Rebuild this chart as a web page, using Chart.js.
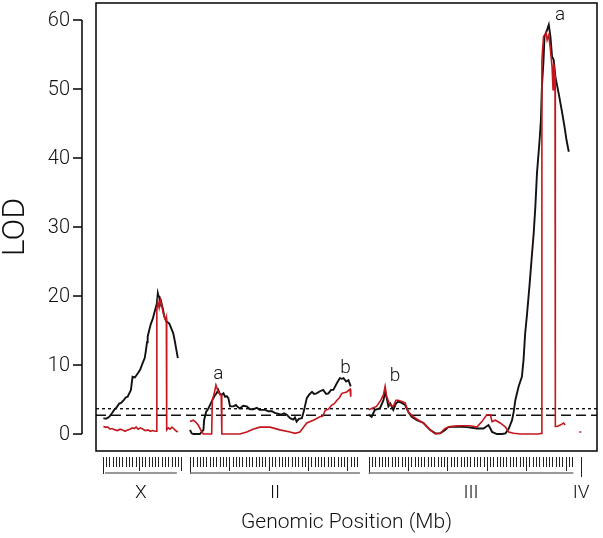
<!DOCTYPE html>
<html>
<head>
<meta charset="utf-8">
<script src="https://cdn.jsdelivr.net/npm/chart.js@4"></script>
<style>
  html, body { margin: 0; padding: 0; background: #fff; }
  canvas { display: block; }
</style>
</head>
<body>
<canvas id="lod" width="603" height="538"></canvas>
<script>
// chromosomes: name, where they start on the genome axis (Mb), bracket extent, marker rug
const chromNames = ['X', 'II', 'III', 'IV']
const chromStart = [2.05, 28.66, 83.14, 147.87]
const chromSpan = [[0.7, 22.6], [0, 51.8], [0, 62.4], [0, 0]]
const markerCount = [25, 52, 63, 1]
const majorMarks = [[11, 24], [12, 24, 36, 48], [12, 24, 36, 48, 60], []]

const yTicks = [0, 10, 20, 30, 40, 50, 60]
const thresholds = [3.67, 2.71]

// LOD traces, [position within chromosome (Mb), LOD]
const blackX = [[0.2,2.3],[1.0,2.2],[2.0,2.5],[2.8,3.0],[3.5,3.5],[4.3,3.9],[5.0,4.4],[5.6,4.5],[6.4,4.9],[7.0,5.3],[7.6,5.4],[8.2,6.0],[8.6,6.4],[8.9,7.6],[9.1,8.3],[9.8,8.2],[10.7,8.8],[11.4,9.3],[12.2,10.3],[12.8,11.0],[13.2,12.2],[13.5,13.3],[13.7,14.1],[14.2,15.1],[14.7,16.0],[15.2,16.6],[15.7,17.5],[16.1,18.2],[16.5,18.9],[16.8,20.4],[17.0,20.0],[17.3,19.9],[17.6,18.9],[17.8,19.2],[18.3,18.2],[18.8,17.0],[19.5,16.3],[20.3,16.0],[20.9,15.3],[21.5,14.6],[22.0,13.4],[22.3,12.6],[22.6,11.8],[22.9,11.0]]
const redX = [[0.2,1.1],[0.8,1.0],[1.6,1.0],[2.2,0.7],[2.8,0.8],[3.8,0.6],[4.5,0.5],[5.3,0.7],[6.0,0.6],[6.8,0.4],[7.6,0.6],[8.3,0.7],[9.0,0.9],[9.6,0.8],[10.2,1.0],[10.8,0.7],[11.5,0.9],[12.3,0.7],[13.0,0.5],[13.8,0.6],[14.5,0.4],[15.2,0.5],[16.0,0.4],[16.4,0.4],[16.5,18.0],[16.8,19.2],[17.2,18.3],[17.6,19.4],[18.0,18.6],[18.4,17.6],[18.8,17.0],[19.2,16.4],[19.4,16.8],[19.5,0.6],[20.0,0.9],[20.5,0.7],[21.1,1.0],[21.6,0.8],[22.0,0.6],[22.5,0.4],[22.9,0.3]]

const blackII = [[0,0.6],[0.5,0.1],[1.0,0],[3.0,0],[4.1,0.6],[4.3,2.0],[4.9,3.2],[5.6,3.7],[6.6,4.7],[7.1,5.2],[7.6,5.6],[8.1,5.9],[8.6,6.4],[9.1,5.8],[9.7,5.7],[10.2,5.9],[10.7,5.4],[11.2,5.5],[11.7,5.2],[12.2,4.0],[13.2,4.0],[14.0,4.2],[14.6,3.9],[15.2,3.7],[16.2,4.1],[17.3,4.0],[18.3,3.6],[19.3,3.6],[20.4,3.8],[21.2,3.5],[21.9,3.5],[22.9,3.5],[23.9,3.3],[25.0,3.3],[25.7,3.1],[26.4,3.0],[27.9,2.8],[28.7,3.0],[29.5,2.8],[30.5,2.3],[31.5,2.1],[32.0,2.4],[32.5,1.8],[33.2,2.2],[34.1,2.3],[34.8,3.5],[35.6,5.2],[36.3,5.7],[37.2,6.1],[37.8,5.8],[38.6,5.9],[39.6,6.2],[40.6,6.4],[41.5,5.8],[42.2,5.9],[43.0,6.4],[43.7,6.4],[44.8,7.4],[45.7,8.1],[46.3,8.0],[46.8,8.1],[47.6,7.6],[48.3,7.8],[49.0,6.9]]
const redII = [[0,1.8],[1.0,2.0],[1.8,1.7],[2.5,1.3],[3.6,0.3],[4.1,0],[6.6,0],[6.8,4.9],[7.4,5.9],[7.9,7.1],[8.4,6.4],[9.1,5.7],[9.5,5.7],[9.7,0],[15.2,0],[17.3,0.3],[19.2,0.7],[21.3,1.0],[24.4,1.0],[27.4,0.6],[30.5,0.3],[32.0,0.1],[33.5,0.3],[35.6,1.6],[37.6,2.0],[39.6,2.5],[40.5,2.6],[41.2,3.4],[42.2,3.6],[43.2,4.2],[44.0,4.4],[44.8,4.9],[45.6,5.3],[46.3,5.9],[47.8,6.1],[48.8,6.5],[49.0,5.4]]

const blackIII = [[0,2.8],[0.9,2.5],[1.9,3.5],[3.4,3.7],[4.5,4.9],[5.0,6.1],[5.5,5.2],[6.0,4.0],[6.6,4.4],[7.5,3.5],[8.3,4.4],[9.0,4.7],[10.1,4.5],[11.1,4.2],[12.1,3.2],[13.1,2.5],[14.7,2.0],[16.7,1.6],[18.7,0.6],[20.3,0.1],[21.8,0.1],[23.3,0.6],[24.3,1.0],[26.9,1.1],[29.9,1.0],[33.0,0.8],[35.0,0.8],[36.5,1.3],[37.1,0.8],[37.6,0.3],[39.1,0],[40.6,0],[41.7,0.1],[42.7,0.8],[43.7,2.0],[44.2,3.2],[44.7,4.9],[45.7,6.9],[46.7,8.3],[47.2,10.7],[47.7,14.6],[48.2,17.0],[49.0,21.4],[49.8,26.2],[50.3,29.1],[50.8,32.9],[51.3,37.8],[52.1,42.6],[52.5,45.5],[52.8,50.3],[53.3,54.2],[53.6,57.6],[54.4,58.6],[54.9,59.3],[55.4,57.6],[55.9,54.7],[56.4,54.2],[56.9,51.8],[57.9,49.4],[59.0,46.5],[59.7,44.5],[60.3,42.6],[61.0,40.9]]
const redIII = [[0,3.5],[0.9,3.7],[2.4,4.0],[3.7,4.9],[4.5,5.7],[5.0,6.9],[5.5,5.4],[6.5,4.2],[7.5,4.0],[8.3,4.9],[9.0,4.9],[10.1,4.7],[11.1,4.5],[12.1,3.2],[13.6,2.5],[15.2,2.0],[16.7,1.6],[18.7,0.6],[20.3,0],[21.8,0.1],[23.3,0.8],[24.8,1.1],[27.9,1.2],[30.9,1.2],[33.0,1.0],[34.5,1.8],[36.0,2.8],[37.1,2.8],[37.6,1.8],[38.6,2.0],[40.1,1.6],[41.7,1.0],[42.7,0.3],[44.2,0.1],[46.3,0],[48.3,0],[50.3,0],[51.8,0],[52.7,0.1],[52.8,54.2],[53.3,57.6],[54.1,58.1],[54.4,57.1],[54.9,57.8],[55.4,55.7],[55.9,53.2],[56.2,49.9],[56.4,53.7],[56.8,52.0],[56.9,1.1],[57.4,1.1],[58.4,1.3],[59.4,1.6],[59.9,1.3]]
const redIV = [[-0.5,0.3],[0.1,0.3]]

// letters marking the peaks: [label, genome position, LOD]
const peakLabels = ['a', 'a', 'b', 'b']
const peakPos = [141.5, 37.3, 76.1, 91.2]
const peakLod = [60.7, 8.65, 9.57, 8.41]

const RED = '#c4161c'
const FONT = 'Roboto, "Liberation Sans", sans-serif'

function toPoints(traces) {
    // traces is a list of [chromosome index, array]; a null point breaks the line
    let pts = []
    traces.forEach(([c, arr], i) => {
        if (i > 0) pts.push({ x: chromStart[c], y: null })
        arr.forEach(p => pts.push({ x: chromStart[c] + p[0], y: p[1] }))
    })
    return pts
}

const xMax = 152.74

const axesPlugin = {
    id: 'lodAxes',
    afterDraw(chart) {
        const { ctx, chartArea: a } = chart
        const x = chart.scales.x
        const y = chart.scales.y
        ctx.save()

        // box round the plot
        ctx.strokeStyle = '#000'
        ctx.lineWidth = 1.5
        ctx.strokeRect(a.left, a.top, a.right - a.left, a.bottom - a.top)

        // y axis, set off to the left
        const ax = a.left - 14
        ctx.beginPath()
        ctx.moveTo(ax, y.getPixelForValue(yTicks[0]))
        ctx.lineTo(ax, y.getPixelForValue(yTicks[yTicks.length - 1]))
        ctx.stroke()
        ctx.font = '300 20px ' + FONT
        ctx.fillStyle = '#111'
        ctx.textAlign = 'right'
        ctx.textBaseline = 'middle'
        yTicks.forEach(v => {
            const py = y.getPixelForValue(v)
            ctx.beginPath()
            ctx.moveTo(ax - 9, py)
            ctx.lineTo(ax, py)
            ctx.stroke()
            ctx.fillText(String(v), ax - 12, py + 1)
        })

        // LOD title
        ctx.save()
        ctx.translate(16, (y.getPixelForValue(0) + y.getPixelForValue(60)) / 2)
        ctx.rotate(-Math.PI / 2)
        ctx.textAlign = 'center'
        ctx.font = '300 32px ' + FONT
        ctx.fillText('LOD', 0, 0)
        ctx.restore()

        // marker rug and chromosome brackets
        const top = a.bottom + 6
        ctx.lineWidth = 1
        ctx.strokeStyle = '#222'
        chromNames.forEach((name, c) => {
            for (let i = 0; i < markerCount[c]; i++) {
                const px = Math.round(x.getPixelForValue(chromStart[c] + i)) + 0.5
                let len = 10
                if (majorMarks[c].includes(i)) len = 14
                if (i === 0) len = 17
                if (c === 3) len = 20
                ctx.beginPath()
                ctx.moveTo(px, top)
                ctx.lineTo(px, top + len)
                ctx.stroke()
            }
            const s = chromSpan[c]
            const x0 = x.getPixelForValue(chromStart[c] + s[0])
            const x1 = x.getPixelForValue(chromStart[c] + s[1])
            if (x1 > x0) {
                ctx.strokeStyle = '#777'
                ctx.lineWidth = 1.5
                ctx.beginPath()
                ctx.moveTo(x0, top + 16)
                ctx.lineTo(x1, top + 16)
                ctx.stroke()
                ctx.strokeStyle = '#222'
                ctx.lineWidth = 1
            }
            ctx.font = '300 19px ' + FONT
            ctx.fillStyle = '#111'
            ctx.textAlign = 'center'
            ctx.fillText(name, (x0 + x1) / 2, a.bottom + 42)
        })

        ctx.font = '300 21px ' + FONT
        ctx.fillText('Genomic Position (Mb)', (a.left + a.right) / 2, a.bottom + 72)

        // peak letters
        ctx.font = '300 19px ' + FONT
        peakLabels.forEach((t, i) => {
            ctx.fillText(t, x.getPixelForValue(peakPos[i]), y.getPixelForValue(peakLod[i]))
        })
        ctx.restore()
    }
}

new Chart(document.getElementById('lod'), {
    type: 'line',
    data: {
        datasets: [
            {
                data: toPoints([[0, redX], [1, redII], [2, redIII], [3, redIV]]),
                borderColor: RED,
                borderWidth: 1.6,
                order: 1
            },
            {
                data: toPoints([[0, blackX], [1, blackII], [2, blackIII]]),
                borderColor: '#111',
                borderWidth: 1.9,
                order: 2
            },
            {
                data: [{ x: 0, y: thresholds[0] }, { x: xMax, y: thresholds[0] }],
                borderColor: '#111',
                borderWidth: 1.4,
                borderDash: [3, 3],
                order: 3
            },
            {
                data: [{ x: 0, y: thresholds[1] }, { x: xMax, y: thresholds[1] }],
                borderColor: '#111',
                borderWidth: 1.4,
                borderDash: [10, 5],
                order: 3
            }
        ]
    },
    options: {
        responsive: false,
        animation: false,
        devicePixelRatio: 1,
        spanGaps: false,
        layout: { padding: { left: 96, right: 6, top: 3, bottom: 87 } },
        elements: { point: { radius: 0 }, line: { tension: 0, fill: false } },
        plugins: { legend: { display: false }, tooltip: { enabled: false } },
        scales: {
            x: { type: 'linear', min: 0, max: xMax, display: false },
            y: { type: 'linear', min: -2.46, max: 62.46, display: false }
        }
    },
    plugins: [axesPlugin]
})
</script>
</body>
</html>
